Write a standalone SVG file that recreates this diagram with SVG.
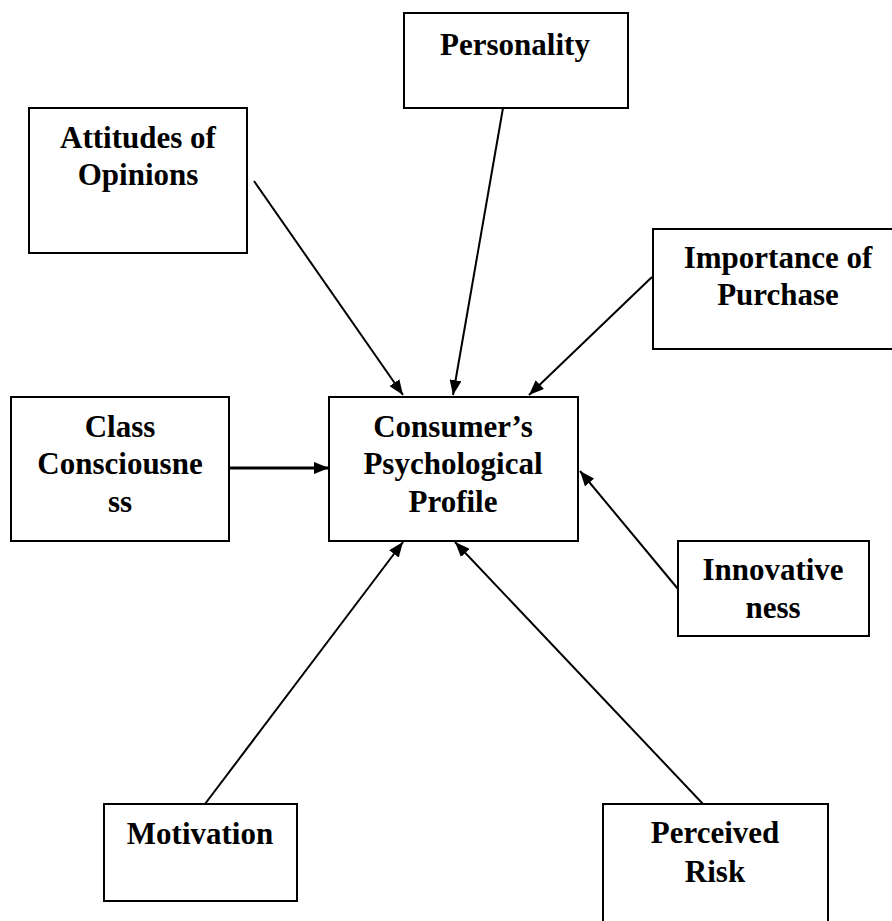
<svg xmlns="http://www.w3.org/2000/svg" width="892" height="921" viewBox="0 0 892 921">
<defs>
<style>
.box{fill:#fff;stroke:#000;stroke-width:2}
.lbl{font-family:"Liberation Serif","Times New Roman",serif;font-weight:bold;font-size:31px;fill:#000;text-anchor:middle}
.con{stroke:#000;stroke-width:2;fill:none;marker-end:url(#ah)}
</style>
<marker id="ah" viewBox="0 0 15 12" refX="15" refY="6" markerWidth="15" markerHeight="12" markerUnits="userSpaceOnUse" orient="auto">
<path d="M0,0 L15,6 L0,12 z" fill="#000"/>
</marker>
</defs>
<rect width="892" height="921" fill="#fff"/>
<g id="connectors">
<line class="con" x1="254" y1="181" x2="403" y2="395"/>
<line class="con" x1="503" y1="108" x2="453" y2="395"/>
<line class="con" x1="652" y1="277" x2="529" y2="395"/>
<line class="con" x1="229" y1="468" x2="329" y2="468" style="stroke-width:3"/>
<line class="con" x1="678" y1="589" x2="580" y2="471"/>
<line class="con" x1="205" y1="804" x2="403" y2="542"/>
<line class="con" x1="703" y1="804" x2="455" y2="542"/>
</g>
<g id="personality">
<rect class="box" x="404" y="13" width="224" height="95"/>
<text class="lbl" x="515" y="55">Personality</text>
</g>
<g id="attitudes">
<rect class="box" x="29" y="108" width="218" height="145"/>
<text class="lbl" x="138" y="148">Attitudes of</text>
<text class="lbl" x="138" y="185">Opinions</text>
</g>
<g id="importance">
<rect class="box" x="653" y="229" width="250" height="120"/>
<text class="lbl" x="778" y="268">Importance of</text>
<text class="lbl" x="778" y="305">Purchase</text>
</g>
<g id="class">
<rect class="box" x="11" y="397" width="218" height="144"/>
<text class="lbl" x="120" y="437">Class</text>
<text class="lbl" x="120" y="474">Consciousne</text>
<text class="lbl" x="120" y="512">ss</text>
</g>
<g id="consumer">
<rect class="box" x="329" y="397" width="249" height="144"/>
<text class="lbl" x="453" y="437">Consumer’s</text>
<text class="lbl" x="453" y="474">Psychological</text>
<text class="lbl" x="453" y="512">Profile</text>
</g>
<g id="innovativeness">
<rect class="box" x="678" y="541" width="191" height="95"/>
<text class="lbl" x="773" y="580">Innovative</text>
<text class="lbl" x="773" y="618">ness</text>
</g>
<g id="motivation">
<rect class="box" x="104" y="804" width="193" height="97"/>
<text class="lbl" x="200" y="844">Motivation</text>
</g>
<g id="perceived">
<rect class="box" x="603" y="804" width="225" height="130"/>
<text class="lbl" x="715" y="843">Perceived</text>
<text class="lbl" x="715" y="882">Risk</text>
</g>
</svg>
